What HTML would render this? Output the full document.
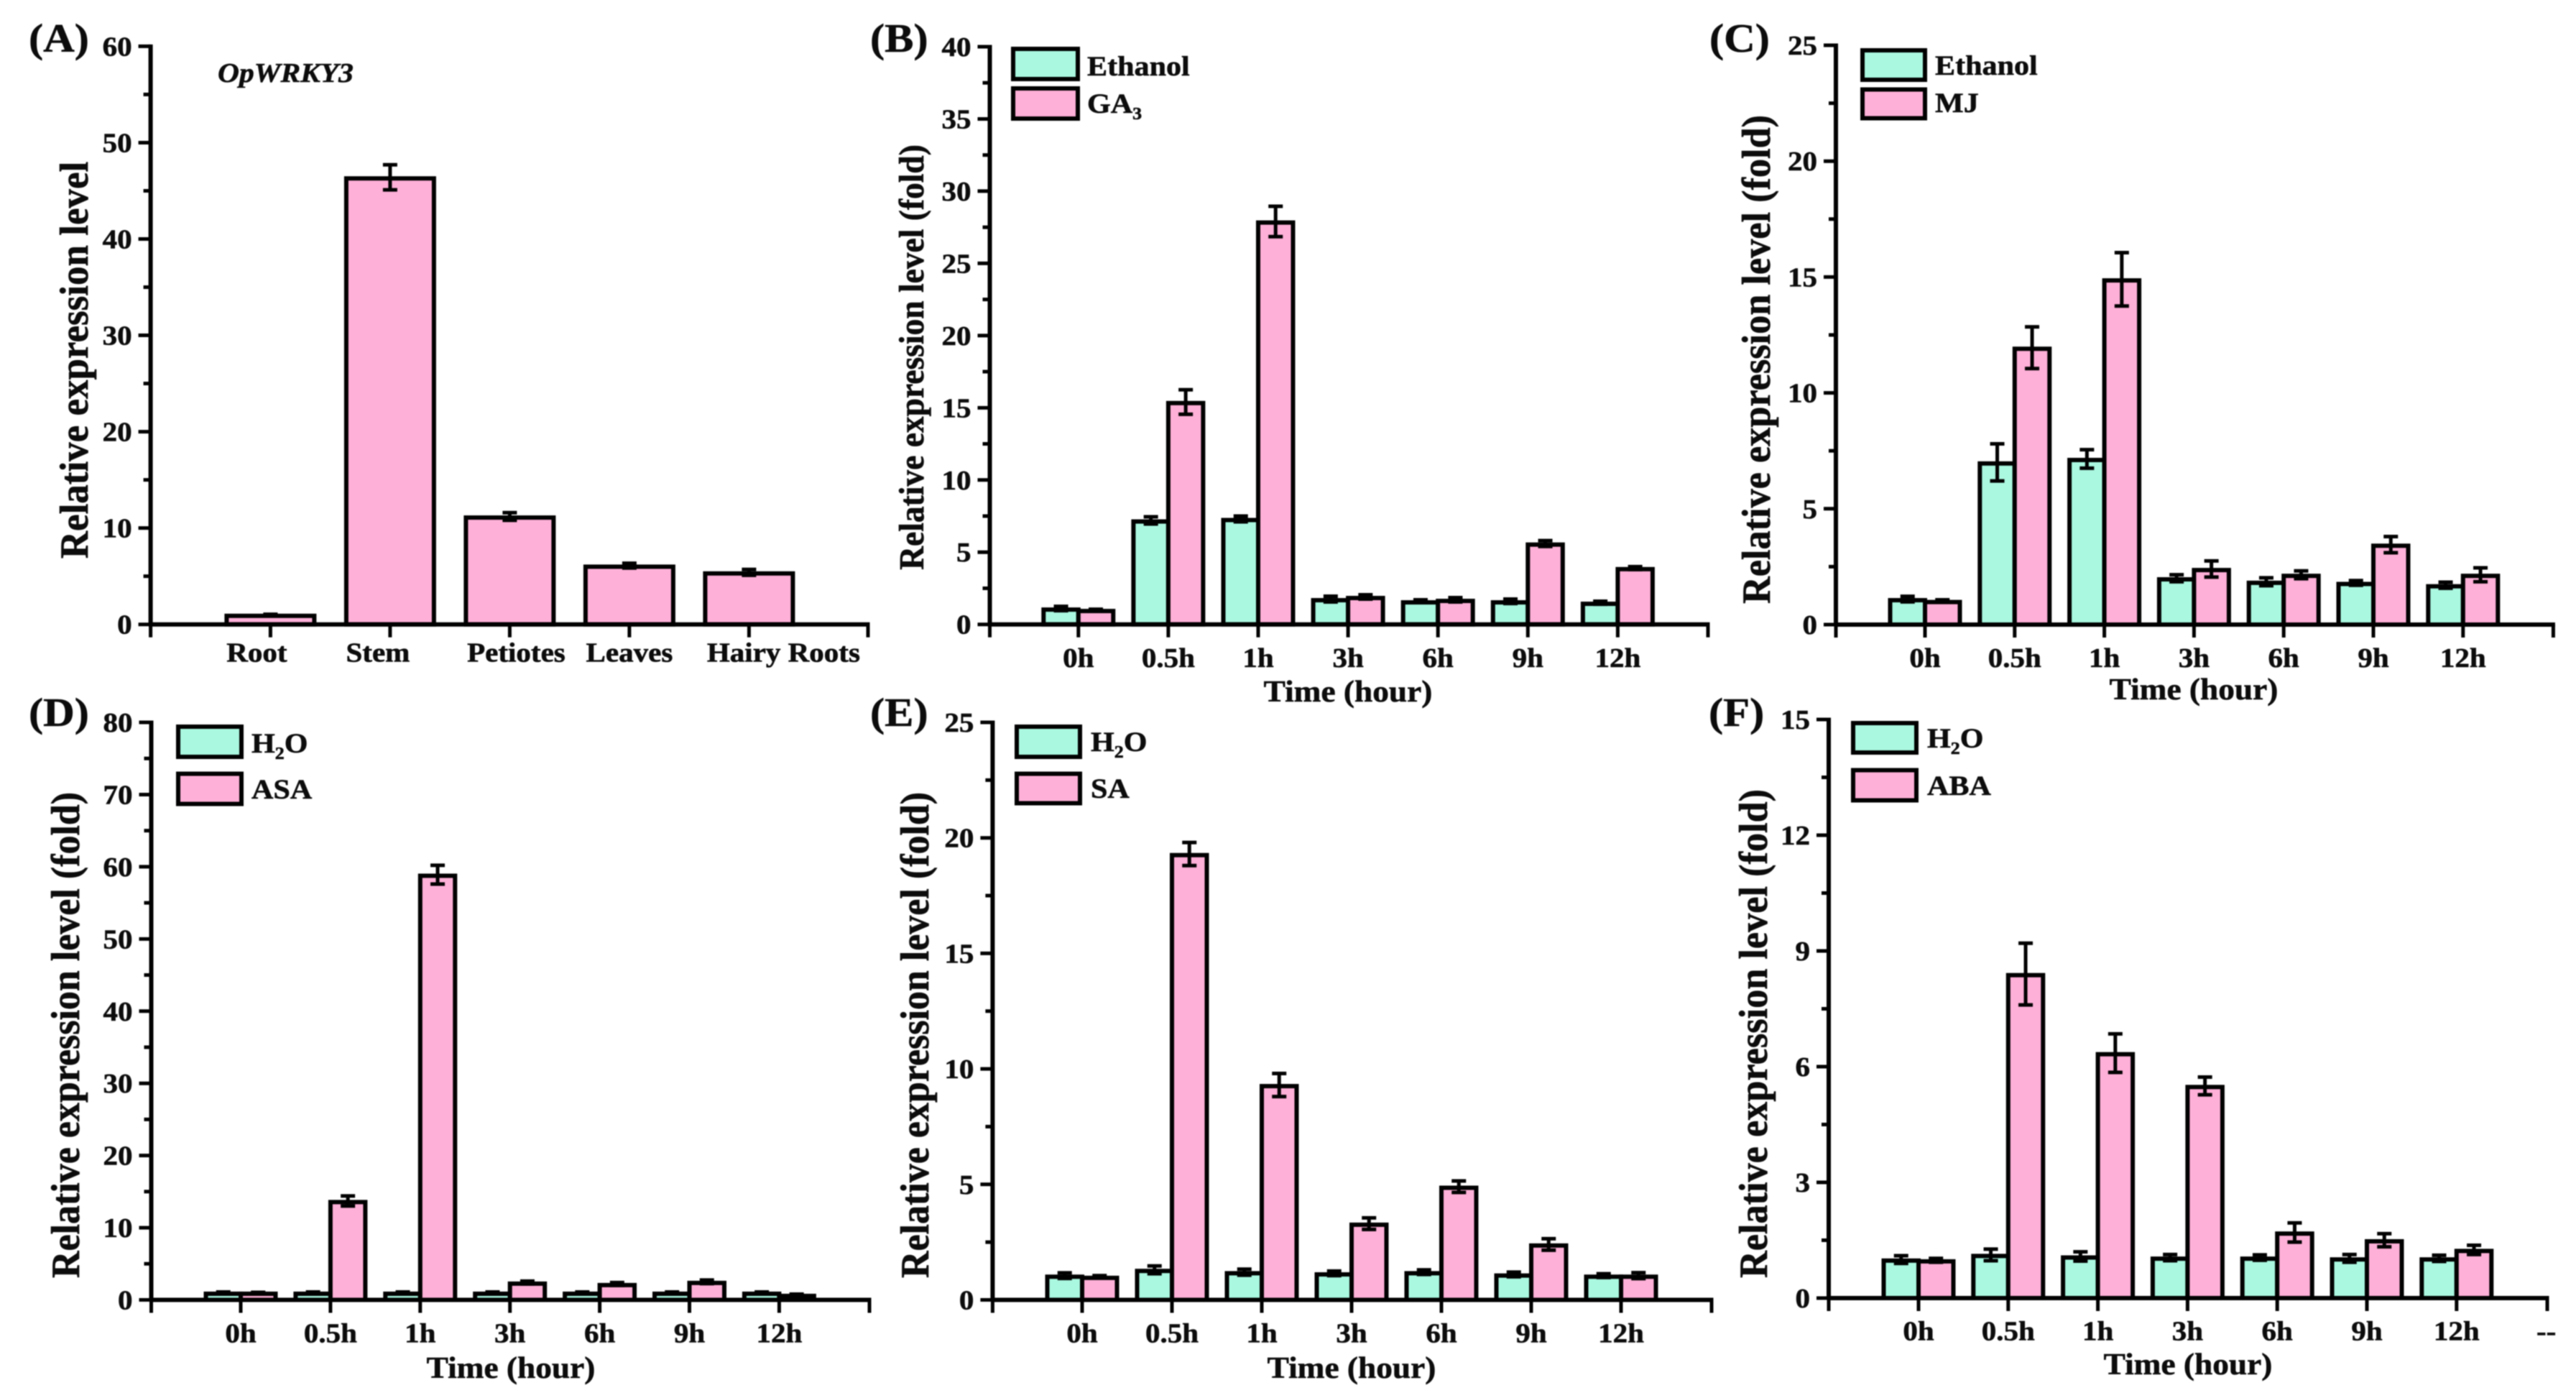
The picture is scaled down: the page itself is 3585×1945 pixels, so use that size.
<!DOCTYPE html>
<html lang="en">
<head>
<meta charset="utf-8">
<title>OpWRKY3 relative expression</title>
<style>
html,body{margin:0;padding:0;background:#fff;width:3585px;height:1945px;overflow:hidden}
svg{display:block;filter:blur(0.9px)}
text{font-family:"Liberation Serif",serif;font-weight:700;fill:#0c0c0c;stroke:#0c0c0c;stroke-width:0.6px}
</style>
</head>
<body>
<svg id="figure" xmlns="http://www.w3.org/2000/svg" width="3585" height="1945" viewBox="0 0 3585 1945">
  <rect x="0" y="0" width="3585" height="1945" fill="#fff"/>
  <g id="plots"></g>

  <g font-size="56">
    <text transform="translate(40,72) scale(1.08,1)">(A)</text>
    <text transform="translate(1211,72) scale(1.08,1)">(B)</text>
    <text transform="translate(2379,72) scale(1.08,1)">(C)</text>
    <text transform="translate(40,1010) scale(1.08,1)">(D)</text>
    <text transform="translate(1211,1010) scale(1.08,1)">(E)</text>
    <text transform="translate(2378,1010) scale(1.08,1)">(F)</text>
  </g>

  <text font-size="38.4" font-style="italic" transform="translate(303,114) scale(1.08,1)">OpWRKY3</text>

  <g text-anchor="middle">
    <text font-size="53" transform="translate(122,501) scale(1.06,1) rotate(-90)">Relative expression level</text>
    <text font-size="45.5" transform="translate(1285,497) scale(1.08,1) rotate(-90)">Relative expression level (fold)</text>
    <text font-size="52.3" transform="translate(2463,500) scale(1.08,1) rotate(-90)">Relative expression level (fold)</text>
    <text font-size="52" transform="translate(110,1440) scale(1.08,1) rotate(-90)">Relative expression level (fold)</text>
    <text font-size="52" transform="translate(1292,1440) scale(1.08,1) rotate(-90)">Relative expression level (fold)</text>
    <text font-size="52.3" transform="translate(2459,1438) scale(1.08,1) rotate(-90)">Relative expression level (fold)</text>
  </g>

  <g text-anchor="middle" font-size="42">
    <text transform="translate(1876,976) scale(1.08,1)">Time (hour)</text>
    <text transform="translate(3053,973) scale(1.08,1)">Time (hour)</text>
    <text transform="translate(711,1917) scale(1.08,1)">Time (hour)</text>
    <text transform="translate(1881,1917) scale(1.08,1)">Time (hour)</text>
    <text transform="translate(3045,1912) scale(1.08,1)">Time (hour)</text>
  </g>

  <g font-size="39">
    <rect x="1410" y="68" width="90" height="42" fill="#aaf8e0" stroke="#000" stroke-width="6"/>
    <rect x="1410" y="123" width="90" height="42" fill="#ffb0d8" stroke="#000" stroke-width="6"/>
    <text transform="translate(1513,105) scale(1.08,1)">Ethanol</text>
    <text transform="translate(1513,157) scale(1.08,1)">GA<tspan font-size="24" dy="9">3</tspan></text>
  </g>
  <g font-size="39">
    <rect x="2592" y="70" width="87" height="41" fill="#aaf8e0" stroke="#000" stroke-width="6"/>
    <rect x="2592" y="124.5" width="87" height="40" fill="#ffb0d8" stroke="#000" stroke-width="6"/>
    <text transform="translate(2693,104) scale(1.08,1)">Ethanol</text>
    <text transform="translate(2693,156) scale(1.08,1)">MJ</text>
  </g>
  <g font-size="39">
    <rect x="248" y="1011" width="88" height="42" fill="#aaf8e0" stroke="#000" stroke-width="6"/>
    <rect x="248" y="1076.5" width="88" height="42" fill="#ffb0d8" stroke="#000" stroke-width="6"/>
    <text transform="translate(350,1047) scale(1.08,1)">H<tspan font-size="24" dy="9">2</tspan><tspan dy="-9">O</tspan></text>
    <text transform="translate(350,1111) scale(1.08,1)">ASA</text>
  </g>
  <g font-size="39">
    <rect x="1415" y="1011" width="88" height="42" fill="#aaf8e0" stroke="#000" stroke-width="6"/>
    <rect x="1415" y="1076.5" width="88" height="41" fill="#ffb0d8" stroke="#000" stroke-width="6"/>
    <text transform="translate(1518,1045) scale(1.08,1)">H<tspan font-size="24" dy="9">2</tspan><tspan dy="-9">O</tspan></text>
    <text transform="translate(1518,1110) scale(1.08,1)">SA</text>
  </g>
  <g font-size="39">
    <rect x="2579" y="1006" width="88" height="41" fill="#aaf8e0" stroke="#000" stroke-width="6"/>
    <rect x="2579" y="1071.5" width="88" height="42" fill="#ffb0d8" stroke="#000" stroke-width="6"/>
    <text transform="translate(2682,1040) scale(1.08,1)">H<tspan font-size="24" dy="9">2</tspan><tspan dy="-9">O</tspan></text>
    <text transform="translate(2682,1106) scale(1.08,1)">ABA</text>
  </g>

  <text font-size="38" transform="translate(3530,1865) scale(1.08,1)">--</text>
</svg>

<script>
// ---------- data ----------
const tissueCategories = ["Root", "Stem", "Petiotes", "Leaves", "Hairy Roots"];
const tissueValues = [1.0, 46.4, 11.2, 6.1, 5.4];
const tissueErrors = [0.05, 1.3, 0.4, 0.25, 0.3];
const tissueTicks = [0, 10, 20, 30, 40, 50, 60];

const timeCategories = ["0h", "0.5h", "1h", "3h", "6h", "9h", "12h"];

const ethanolB = [1.1, 7.2, 7.3, 1.75, 1.6, 1.6, 1.5];
const ethanolBErr = [0.15, 0.25, 0.2, 0.2, 0.1, 0.15, 0.1];
const ga3 = [1.0, 15.4, 27.9, 1.9, 1.7, 5.6, 3.9];
const ga3Err = [0.05, 0.85, 1.05, 0.15, 0.15, 0.2, 0.1];
const ticksB = [0, 5, 10, 15, 20, 25, 30, 35, 40];

const ethanolC = [1.1, 7.0, 7.15, 2.0, 1.85, 1.8, 1.7];
const ethanolCErr = [0.12, 0.8, 0.4, 0.15, 0.17, 0.1, 0.13];
const mj = [1.02, 11.95, 14.9, 2.4, 2.15, 3.45, 2.15];
const mjErr = [0.05, 0.9, 1.15, 0.35, 0.17, 0.35, 0.3];
const ticksC = [0, 5, 10, 15, 20, 25];

const waterD = [1.0, 1.0, 1.0, 1.0, 1.0, 1.0, 1.0];
const waterDErr = [0.1, 0.1, 0.1, 0.1, 0.1, 0.1, 0.1];
const asa = [1.0, 13.7, 58.9, 2.4, 2.2, 2.5, 0.7];
const asaErr = [0.05, 0.7, 1.3, 0.2, 0.2, 0.25, 0.1];
const ticksD = [0, 10, 20, 30, 40, 50, 60, 70, 80];

const waterE = [1.05, 1.3, 1.2, 1.15, 1.2, 1.1, 1.05];
const waterEErr = [0.12, 0.17, 0.13, 0.1, 0.1, 0.1, 0.08];
const sa = [1.0, 19.3, 9.3, 3.3, 4.9, 2.4, 1.05];
const saErr = [0.05, 0.5, 0.5, 0.25, 0.25, 0.25, 0.13];
const ticksE = [0, 5, 10, 15, 20, 25];

const waterF = [1.0, 1.12, 1.08, 1.05, 1.05, 1.03, 1.03];
const waterFErr = [0.1, 0.15, 0.12, 0.08, 0.07, 0.1, 0.08];
const aba = [0.98, 8.4, 6.35, 5.5, 1.7, 1.5, 1.25];
const abaErr = [0.05, 0.8, 0.5, 0.23, 0.25, 0.17, 0.12];
const ticksF = [0, 3, 6, 9, 12, 15];

// ---------- drawing ----------
const NS = 'http://www.w3.org/2000/svg';
const plots = document.getElementById('plots');
const TEAL = '#aaf8e0';
const PINK = '#ffb0d8';

function line(parent, name, x1, y1, x2, y2, width) {
  const el = document.createElementNS(NS, 'line');
  
  
  el.setAttribute('x1', x1);
  el.setAttribute('y1', y1);
  el.setAttribute('x2', x2);
  el.setAttribute('y2', y2);
  el.setAttribute('stroke', '#000');
  el.setAttribute('stroke-width', width);
  parent.appendChild(el);
  return el;
}

function label(parent, name, str, x, y, anchor) {
  const el = document.createElementNS(NS, 'text');
  
  
  el.setAttribute('font-size', '38');
  el.setAttribute('text-anchor', anchor);
  el.setAttribute('transform', 'translate(' + x + ',' + y + ') scale(1.08,1)');
  el.textContent = str;
  parent.appendChild(el);
  return el;
}

function bar(parent, name, x, w, yTop, yBase, fill) {
  const el = document.createElementNS(NS, 'rect');
  
  
  el.setAttribute('x', x);
  el.setAttribute('y', yTop + 1.5);
  el.setAttribute('width', w);
  el.setAttribute('height', Math.max(0, yBase - yTop - 1.5));
  el.setAttribute('fill', fill);
  el.setAttribute('stroke', '#000');
  el.setAttribute('stroke-width', '6');
  parent.appendChild(el);
  return el;
}

function errorBar(parent, name, x, yHi, yLo) {
  const g = document.createElementNS(NS, 'g');
  
  
  line(g, 'error-stem', x, yHi, x, yLo, 5);
  line(g, 'error-cap-top', x - 10, yHi, x + 10, yHi, 5);
  line(g, 'error-cap-bottom', x - 10, yLo, x + 10, yLo, 5);
  parent.appendChild(g);
}

function makePanel(id, geo) {
  const g = document.createElementNS(NS, 'g');
  
  
  plots.appendChild(g);
  const yMax = geo.ticks[geo.ticks.length - 1];
  const sx = i => geo.firstTick + i * geo.step;
  const sy = v => geo.y0 - v / yMax * (geo.y0 - geo.yTop);
  return { g, sx, sy };
}

function drawAxes(id, p, geo, categories, labelX) {
  const { g, sx, sy } = p;
  line(g, 'y-axis-' + id, geo.x0, geo.yTop - 2.5, geo.x0, geo.y0 + 2.5, 6);
  line(g, 'x-axis-' + id, geo.x0 - 2.5, geo.y0, geo.right + 2.5, geo.y0, 6);
  geo.ticks.forEach((t, i) => {
    line(g, 'y-tick-' + id, geo.x0 - 17, sy(t), geo.x0, sy(t), 5);
    label(g, 'y-tick-label-' + id, String(t), geo.x0 - 26, sy(t) + 13, 'end');
    if (i < geo.ticks.length - 1) {
      const mid = (t + geo.ticks[i + 1]) / 2;
      line(g, 'y-minor-tick-' + id, geo.x0 - 10, sy(mid), geo.x0, sy(mid), 5);
    }
  });
  line(g, 'x-axis-start-tick-' + id, geo.x0, geo.y0, geo.x0, geo.y0 + 18, 5);
  line(g, 'x-axis-end-tick-' + id, geo.right, geo.y0, geo.right, geo.y0 + 18, 5);
  categories.forEach((c, i) => {
    line(g, 'x-tick-' + id, sx(i), geo.y0, sx(i), geo.y0 + 18, 5);
    label(g, 'x-tick-label-' + id, c, labelX ? labelX(i) : sx(i), geo.labelY, 'middle');
  });
}

function groupedPanel(id, geo, aVals, aErrs, bVals, bErrs) {
  const p = makePanel(id, geo);
  const w = 48.5;
  timeCategories.forEach((c, i) => {
    bar(p.g, 'control-bar-' + c, p.sx(i) - w, w, p.sy(aVals[i]), geo.y0, TEAL);
    bar(p.g, 'treatment-bar-' + c, p.sx(i), w, p.sy(bVals[i]), geo.y0, PINK);
  });
  timeCategories.forEach((c, i) => {
    errorBar(p.g, 'control-error-' + c, p.sx(i) - w / 2, p.sy(aVals[i] + aErrs[i]), p.sy(aVals[i] - aErrs[i]));
    errorBar(p.g, 'treatment-error-' + c, p.sx(i) + w / 2, p.sy(bVals[i] + bErrs[i]), p.sy(bVals[i] - bErrs[i]));
  });
  drawAxes(id, p, geo, timeCategories);
}

// Panel A: single-series bars
const geoA = { x0: 209.6, right: 1208, yTop: 64.4, y0: 868.7, firstTick: 376.4, step: 166.5, labelY: 920.5, ticks: tissueTicks };
const panelA = makePanel('a', geoA);
const tissueLabelOffsets = [-19, -17, 9, 0, 48];
tissueCategories.forEach((c, i) => {
  bar(panelA.g, 'tissue-bar-' + c, panelA.sx(i) - 61, 122, panelA.sy(tissueValues[i]), geoA.y0, PINK);
});
tissueCategories.forEach((c, i) => {
  errorBar(panelA.g, 'tissue-error-' + c, panelA.sx(i), panelA.sy(tissueValues[i] + tissueErrors[i]), panelA.sy(tissueValues[i] - tissueErrors[i]));
});
drawAxes('a', panelA, geoA, tissueCategories, i => panelA.sx(i) + tissueLabelOffsets[i]);

// Panels B–F: paired bars
groupedPanel('b', { x0: 1377.5, right: 2377, yTop: 65, y0: 868.7, firstTick: 1500.8, step: 125.1, labelY: 928, ticks: ticksB }, ethanolB, ethanolBErr, ga3, ga3Err);
groupedPanel('c', { x0: 2555, right: 3553.4, yTop: 63, y0: 869, firstTick: 2679, step: 124.8, labelY: 928, ticks: ticksC }, ethanolC, ethanolCErr, mj, mjErr);
groupedPanel('d', { x0: 210.5, right: 1210, yTop: 1005, y0: 1808.5, firstTick: 335, step: 124.9, labelY: 1867.5, ticks: ticksD }, waterD, waterDErr, asa, asaErr);
groupedPanel('e', { x0: 1381.4, right: 2382, yTop: 1005, y0: 1808.5, firstTick: 1506, step: 125, labelY: 1867.5, ticks: ticksE }, waterE, waterEErr, sa, saErr);
groupedPanel('f', { x0: 2545, right: 3545, yTop: 1001, y0: 1806, firstTick: 2670, step: 124.8, labelY: 1864.5, ticks: ticksF }, waterF, waterFErr, aba, abaErr);
</script>
</body>
</html>
